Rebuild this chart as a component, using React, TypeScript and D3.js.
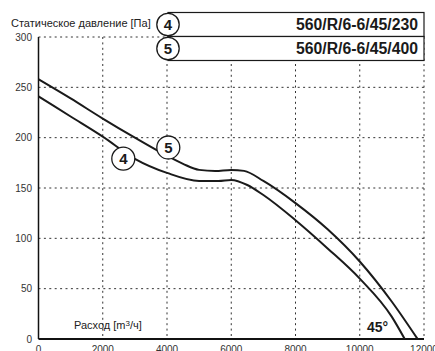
import React from "react";
import * as d3 from "d3";

// flow in m3/h, static pressure in Pa
const flow4 = [0, 1000, 2000, 3000, 4000, 5000, 5600, 6000, 6500, 7000, 8000, 9000, 10000, 11000, 11400];
const press4 = [241, 221, 201, 179, 165, 157, 157, 158, 153, 143, 118, 90, 60, 22, 0];
const flow5 = [0, 1000, 2000, 3000, 4000, 4500, 5000, 5500, 6000, 6400, 7000, 8000, 9000, 10000, 11000, 11800];
const press5 = [258, 239, 219, 200, 182, 174, 168, 167, 168, 167, 157, 135, 109, 77, 37, 0];

const xTicks = [0, 2000, 4000, 6000, 8000, 10000, 12000];
const yTicks = [0, 50, 100, 150, 200, 250, 300];
const models = ["560/R/6-6/45/230", "560/R/6-6/45/400"];
const curveIds = ["4", "5"];

const W = 435;
const H = 351;

export default function App() {
  const x = d3.scaleLinear().domain([0, 12000]).range([38.5, 424]);
  const y = d3.scaleLinear().domain([0, 300]).range([339, 37]);

  const line = d3
    .line<[number, number]>()
    .x((d) => x(d[0]))
    .y((d) => y(d[1]))
    .curve(d3.curveMonotoneX);

  const path4 = line(flow4.map((f, i) => [f, press4[i]]) as [number, number][]);
  const path5 = line(flow5.map((f, i) => [f, press5[i]]) as [number, number][]);

  const grid = "#333";
  const dash = "2,3.4";
  const font = "Liberation Sans, Arial, sans-serif";

  return (
    <svg
      width={W}
      height={H}
      style={{ position: "absolute", left: 0, top: 0, background: "#fff" }}
      fontFamily={font}
    >
      {/* grid */}
      {yTicks.slice(1).map((t) => (
        <line key={"h" + t} x1={x(0)} x2={x(12000)} y1={y(t)} y2={y(t)} stroke={grid} strokeWidth={1} strokeDasharray={dash} />
      ))}
      {xTicks.slice(1).map((t) => (
        <line key={"v" + t} x1={x(t)} x2={x(t)} y1={y(300)} y2={y(0)} stroke={grid} strokeWidth={1} strokeDasharray={dash} />
      ))}

      {/* axes */}
      <line x1={x(0)} x2={x(0)} y1={y(300)} y2={y(0)} stroke="#111" strokeWidth={1.5} />
      <line x1={x(0)} x2={x(12000)} y1={y(0)} y2={y(0)} stroke="#111" strokeWidth={2} />

      {yTicks.map((t) => (
        <text key={"yl" + t} x={32} y={y(t) + 3.5} textAnchor="end" fontSize={10} fill="#333">
          {t}
        </text>
      ))}
      {xTicks.map((t) => (
        <text key={"xl" + t} x={x(t)} y={353} textAnchor="middle" fontSize={10} fill="#333">
          {t}
        </text>
      ))}

      {/* curves */}
      <path d={path4 ?? ""} fill="none" stroke="#1a1a1a" strokeWidth={2} />
      <path d={path5 ?? ""} fill="none" stroke="#1a1a1a" strokeWidth={2} />

      {/* curve markers */}
      <g>
        <circle cx={123.3} cy={158.7} r={11.5} fill="#fff" stroke="#1a1a1a" strokeWidth={1.3} />
        <text x={123.3} y={164} textAnchor="middle" fontSize={15} fontWeight="bold" fill="#1a1a1a">4</text>
        <circle cx={168.3} cy={147.5} r={11.5} fill="#fff" stroke="#1a1a1a" strokeWidth={1.3} />
        <text x={168.3} y={152.8} textAnchor="middle" fontSize={15} fontWeight="bold" fill="#1a1a1a">5</text>
      </g>

      {/* legend boxes */}
      {models.map((m, i) => (
        <g key={m}>
          <rect x={168} y={12.5 + i * 24} width={256} height={24} fill="#fff" stroke="#1a1a1a" strokeWidth={1.2} />
        </g>
      ))}
      {models.map((m, i) => (
        <g key={"c" + m}>
          <circle cx={168} cy={24.5 + i * 24} r={11.2} fill="#fff" stroke="#1a1a1a" strokeWidth={1.3} />
          <text x={168} y={30 + i * 24} textAnchor="middle" fontSize={15} fontWeight="bold" fill="#1a1a1a">
            {curveIds[i]}
          </text>
          <text
            x={418}
            y={30 + i * 24}
            textAnchor="end"
            fontSize={16}
            fontWeight="bold"
            fill="#1a1a1a"
            textLength={122}
            lengthAdjust="spacingAndGlyphs"
          >
            {m}
          </text>
        </g>
      ))}

      {/* titles */}
      <text x={11} y={27} fontSize={11} fill="#222">Статическое давление [Па]</text>
      <text x={74} y={329} fontSize={11} fill="#222">
        Расход [m<tspan fontSize={8} dy={-3}>3</tspan><tspan dy={3}>/ч]</tspan>
      </text>
      <text x={367} y={331.5} fontSize={14} fontWeight="bold" fill="#1a1a1a">45°</text>
    </svg>
  );
}
